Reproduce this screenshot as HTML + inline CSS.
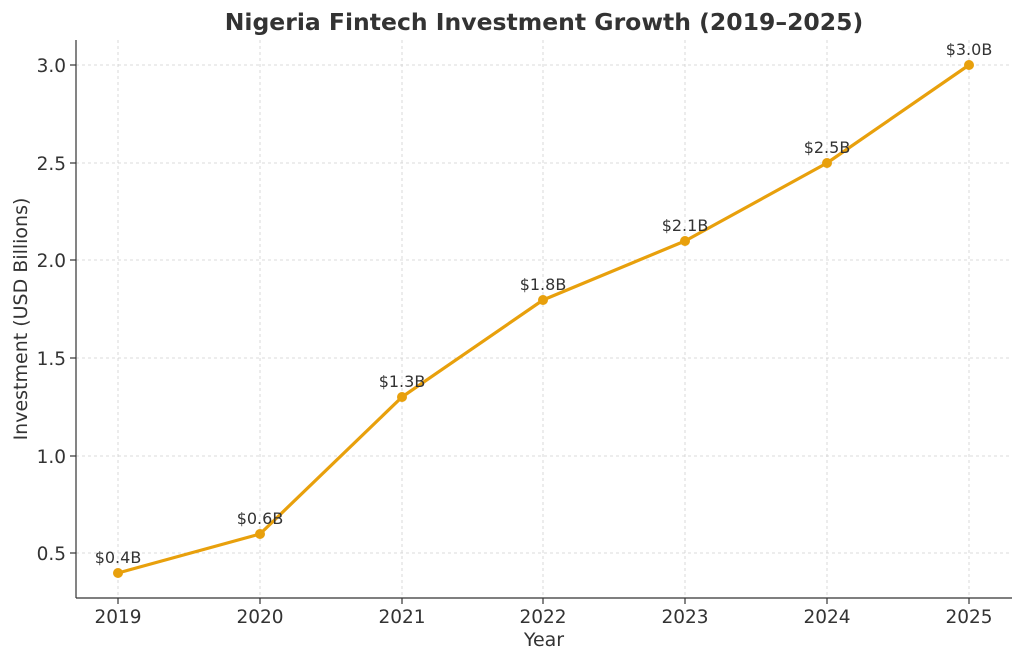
<!DOCTYPE html>
<html><head><meta charset="utf-8"><style>
body{margin:0;background:#fff}
svg text{font-family:"DejaVu Sans","Liberation Sans",sans-serif;fill:#333}
</style></head><body>
<svg width="1024" height="662" viewBox="0 0 1024 662" xmlns="http://www.w3.org/2000/svg">
<rect width="1024" height="662" fill="#fff"/>
<g stroke="#d0d0d0" stroke-width="0.8" stroke-dasharray="3,3">
<line x1="118" y1="40" x2="118" y2="598"/><line x1="260" y1="40" x2="260" y2="598"/>
<line x1="402" y1="40" x2="402" y2="598"/><line x1="543" y1="40" x2="543" y2="598"/>
<line x1="685" y1="40" x2="685" y2="598"/><line x1="827" y1="40" x2="827" y2="598"/>
<line x1="969" y1="40" x2="969" y2="598"/>
<line x1="76" y1="553" x2="1012" y2="553"/><line x1="76" y1="456" x2="1012" y2="456"/>
<line x1="76" y1="358" x2="1012" y2="358"/><line x1="76" y1="260" x2="1012" y2="260"/>
<line x1="76" y1="163" x2="1012" y2="163"/><line x1="76" y1="65" x2="1012" y2="65"/>
</g>
<g stroke="#333" stroke-width="1.2">
<line x1="76" y1="40" x2="76" y2="598"/><line x1="76" y1="598" x2="1012" y2="598"/>
<line x1="118" y1="598" x2="118" y2="604"/><line x1="260" y1="598" x2="260" y2="604"/>
<line x1="402" y1="598" x2="402" y2="604"/><line x1="543" y1="598" x2="543" y2="604"/>
<line x1="685" y1="598" x2="685" y2="604"/><line x1="827" y1="598" x2="827" y2="604"/>
<line x1="969" y1="598" x2="969" y2="604"/>
<line x1="70" y1="553" x2="76" y2="553"/><line x1="70" y1="456" x2="76" y2="456"/>
<line x1="70" y1="358" x2="76" y2="358"/><line x1="70" y1="260" x2="76" y2="260"/>
<line x1="70" y1="163" x2="76" y2="163"/><line x1="70" y1="65" x2="76" y2="65"/>
</g>
<g font-size="18.5" text-anchor="middle">
<text x="118" y="623">2019</text><text x="260" y="623">2020</text><text x="402" y="623">2021</text>
<text x="543" y="623">2022</text><text x="685" y="623">2023</text><text x="827" y="623">2024</text>
<text x="969" y="623">2025</text>
</g>
<g font-size="18.5" text-anchor="end">
<text x="66" y="560">0.5</text><text x="66" y="463">1.0</text><text x="66" y="365">1.5</text>
<text x="66" y="267">2.0</text><text x="66" y="170">2.5</text><text x="66" y="72">3.0</text>
</g>
<text x="544" y="646" font-size="19" text-anchor="middle">Year</text>
<text transform="translate(27,319) rotate(-90)" font-size="19" text-anchor="middle">Investment (USD Billions)</text>
<text x="544" y="30" font-size="23.5" font-weight="bold" text-anchor="middle">Nigeria Fintech Investment Growth (2019–2025)</text>
<polyline fill="none" stroke="#e8a00c" stroke-width="3.2" stroke-linejoin="round" points="118,573 260,534 402,397 543,300 685,241 827,163 969,65"/>
<g fill="#e8a00c">
<circle cx="118" cy="573" r="5"/><circle cx="260" cy="534" r="5"/><circle cx="402" cy="397" r="5"/>
<circle cx="543" cy="300" r="5"/><circle cx="685" cy="241" r="5"/><circle cx="827" cy="163" r="5"/>
<circle cx="969" cy="65" r="5"/>
</g>
<g font-size="16" text-anchor="middle">
<text x="118" y="563">$0.4B</text><text x="260" y="524">$0.6B</text><text x="402" y="387">$1.3B</text>
<text x="543" y="290">$1.8B</text><text x="685" y="231">$2.1B</text><text x="827" y="153">$2.5B</text>
<text x="969" y="55">$3.0B</text>
</g>
</svg>
</body></html>
